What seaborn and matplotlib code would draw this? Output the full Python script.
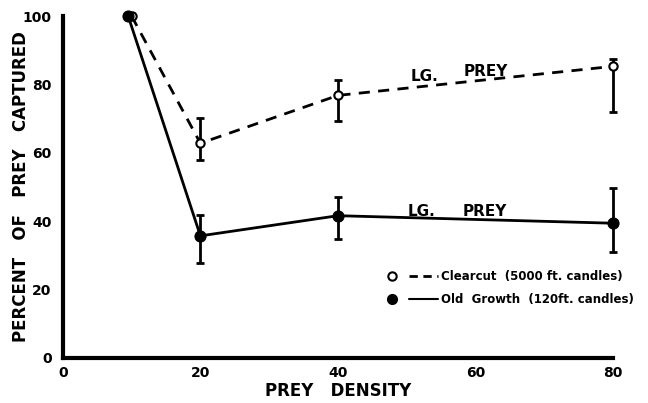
import numpy as np
import pandas as pd
import seaborn as sns
import matplotlib
matplotlib.use("Agg")
import matplotlib.pyplot as plt
from matplotlib.lines import Line2D
from matplotlib.legend_handler import HandlerTuple

# values
clear_density = [10, 20, 40, 80]
clear_pct = [100, 62.8, 76.8, 85.3]
clear_err_lo = [0, 5.0, 7.4, 13.5]
clear_err_hi = [0, 7.4, 4.6, 2.1]

old_density = [9.5, 20, 40, 80]
old_pct = [100, 35.7, 41.6, 39.4]
old_err_lo = [0, 8.0, 6.9, 8.3]
old_err_hi = [0, 6.1, 5.6, 10.2]

x_ticks = [0, 20, 40, 60, 80]
y_ticks = [0, 20, 40, 60, 80, 100]

df = pd.concat([
    pd.DataFrame({"density": clear_density, "pct": clear_pct, "site": "Clearcut"}),
    pd.DataFrame({"density": old_density, "pct": old_pct, "site": "Old Growth"}),
])

sns.set_style("white")
plt.rcParams["font.family"] = ["DejaVu Sans"]
plt.rcParams["font.weight"] = "bold"
for k in ["text.color", "axes.labelcolor", "xtick.color", "ytick.color", "axes.edgecolor"]:
    plt.rcParams[k] = "black"

fig = plt.figure(figsize=(6.48, 4.03), dpi=100)
ax = fig.add_axes([0.097, 0.112, 0.849, 0.848])

sns.lineplot(data=df[df.site == "Clearcut"], x="density", y="pct", ax=ax,
             color="black", lw=2, linestyle=(0, (4, 3)), marker="o", markersize=6,
             markerfacecolor="white", markeredgecolor="black", markeredgewidth=1.5,
             zorder=3)
sns.lineplot(data=df[df.site == "Old Growth"], x="density", y="pct", ax=ax,
             color="black", lw=2, marker="o", markersize=8,
             markerfacecolor="black", markeredgecolor="black", zorder=3)
for ln in ax.lines:
    ln.set_clip_on(False)

for dens, pct, lo, hi in [(clear_density, clear_pct, clear_err_lo, clear_err_hi),
                          (old_density, old_pct, old_err_lo, old_err_hi)]:
    eb = ax.errorbar(dens[1:], pct[1:], yerr=[lo[1:], hi[1:]], fmt="none",
                     ecolor="black", elinewidth=2, capsize=3, capthick=2, zorder=2)
    for a in eb.get_children():
        a.set_clip_on(False)

# curve labels
ax.text(52.6, 81.0, "LG.", fontsize=11, fontweight="bold", ha="center", va="baseline")
ax.text(61.5, 82.6, "PREY", fontsize=11, fontweight="bold", ha="center", va="baseline")
ax.text(52.1, 41.4, "LG.", fontsize=11, fontweight="bold", ha="center", va="baseline")
ax.text(61.4, 41.4, "PREY", fontsize=11, fontweight="bold", ha="center", va="baseline")

ax.set_xlim(0, 80)
ax.set_ylim(0, 100)
ax.set_xticks(x_ticks)
ax.set_yticks(y_ticks)
ax.tick_params(axis="x", direction="in", length=5, width=1.5, labelsize=10, pad=6)
ax.tick_params(axis="y", direction="out", length=5, width=1.5, labelsize=10, pad=3)
for lab in ax.get_xticklabels() + ax.get_yticklabels():
    lab.set_fontweight("bold")

ax.set_xlabel("PREY   DENSITY", fontsize=12, fontweight="bold", labelpad=1)
ax.set_ylabel("PERCENT   OF   PREY   CAPTURED", fontsize=12, fontweight="bold")
ax.yaxis.set_label_coords(-0.06, 0.5)

sns.despine(ax=ax)
ax.spines["left"].set_linewidth(3)
ax.spines["bottom"].set_linewidth(3)

h_clear = (Line2D([], [], marker="o", ls="none", color="black", markerfacecolor="white",
                  markersize=6, markeredgewidth=1.5),
           Line2D([], [], color="black", lw=2, ls=(0, (3, 2))))
h_old = (Line2D([], [], marker="o", ls="none", color="black", markersize=7),
         Line2D([], [], color="black", lw=1.5))
leg = ax.legend([h_clear, h_old],
                ["Clearcut  (5000 ft. candles)", "Old  Growth  (120ft. candles)"],
                handler_map={tuple: HandlerTuple(ndivide=None, pad=0.2)},
                loc="upper left", bbox_to_anchor=(0.56, 0.275), frameon=False,
                borderpad=0, handlelength=5.2, handletextpad=0.2, labelspacing=0.85,
                prop={"weight": "bold", "size": 8.5})

fig.savefig("out.png", dpi=100)
